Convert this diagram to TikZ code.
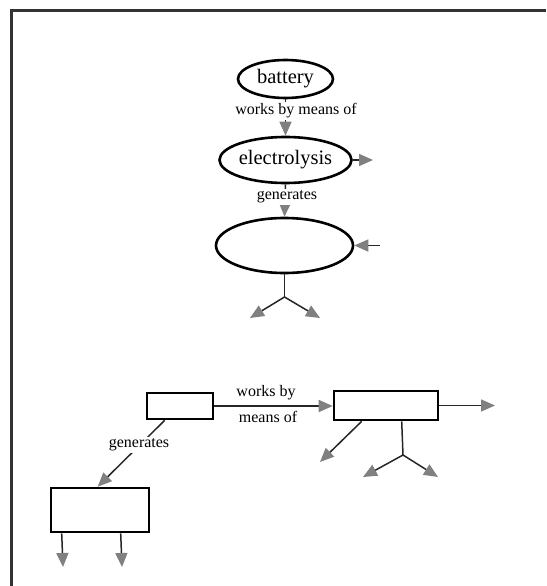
\documentclass[tikz,border=0pt]{standalone}
\usepackage{fontspec}
\setmainfont{Liberation Serif}
\usetikzlibrary{arrows.meta,shapes.geometric}
\begin{document}
\begin{tikzpicture}[x=1pt,y=-1pt,
  concept/.style={draw=black,line width=2.6pt,ellipse,inner sep=0pt,
    font=\fontsize{20.5}{22}\selectfont},
  box/.style={draw=black,line width=2.6pt,rectangle,inner sep=0pt},
  link/.style={draw=black!85,line width=1.5pt,
    -{Triangle[length=14pt,width=12pt,color=gray]}},
  stem/.style={draw=black!85,line width=1.5pt},
  lbl/.style={fill=white,inner sep=1.5pt,font=\fontsize{16}{18}\selectfont},
  plain/.style={inner sep=0pt,font=\fontsize{16}{18}\selectfont},
]
\useasboundingbox (0,0) rectangle (546,586);

% frame along the top and left edges
\draw[line width=3pt,black!80] (11,586) -- (11,11) -- (546,11);

% ---- upper concept chain ----
\node[concept,minimum width=95pt,minimum height=38pt] (battery) at (285.5,79) {battery};
\node[concept,minimum width=115pt,minimum height=46pt] (electrolysis) at (285.5,160) {electrolysis};
\node[concept,minimum width=137pt,minimum height=55pt] (result) at (284.5,245.5) {};

\coordinate (eout) at (373,160);
\coordinate (rin) at (380,245.5);
\coordinate (rfork) at (284.5,297);
\coordinate (rleft) at (250,318);
\coordinate (rright) at (320,318);

\draw[link] (battery.south) -- (electrolysis.north);
\node[lbl] (worksA) at (296,111) {works by means of};
\draw[link] (electrolysis.east) -- (eout);
\draw[link] (electrolysis.south) -- (result.north);
\node[lbl] (genA) at (287,197) {generates};
\draw[link] (rin) -- (result.east);
\draw[stem] (result.south) -- (rfork);
\draw[link] (rfork) -- (rleft);
\draw[link] (rfork) -- (rright);

% ---- lower box chain ----
\node[box,minimum width=66pt,minimum height=26pt] (src) at (180,406) {};
\node[box,minimum width=104pt,minimum height=29pt] (dst) at (386,405.5) {};
\node[box,minimum width=98pt,minimum height=44pt] (out) at (100,510) {};

\draw[link] (src.east) -- (src.east -| dst.west);
\node[plain] (worksB1) at (266,393) {works by};
\node[plain] (worksB2) at (268,417) {means of};

\coordinate (dout) at (495,405.5);
\coordinate (ddiag) at (320,462);
\coordinate (dfork) at (403,455);
\coordinate (dleft) at (363,477);
\coordinate (dright) at (438,477);

\draw[link] (dst.east) -- (dout);
\draw[link] ([xshift=29pt]dst.south west) -- (ddiag);
\draw[stem] ([xshift=69pt]dst.south west) -- (dfork);
\draw[link] (dfork) -- (dleft);
\draw[link] (dfork) -- (dright);

\draw[link] ([xshift=19pt]src.south west) -- ([xshift=48pt]out.north west);
\node[lbl] (genB) at (139,445) {generates};

\coordinate (oleft) at (63,567);
\coordinate (oright) at (122,567);
\draw[link] ([xshift=12pt]out.south west) -- (oleft);
\draw[link] ([xshift=71pt]out.south west) -- (oright);
\end{tikzpicture}
\end{document}
